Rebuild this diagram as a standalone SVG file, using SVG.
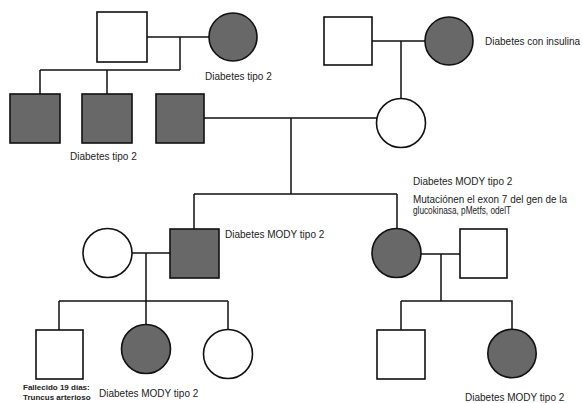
<svg xmlns="http://www.w3.org/2000/svg" width="582" height="403" viewBox="0 0 582 403">
<style>
.sh{stroke:#111;stroke-width:1.6;fill:#fff}
.af{fill:#686868}
.ln{stroke:#111;stroke-width:1.5;fill:none}
.t{font-family:"Liberation Sans",Arial,sans-serif;font-size:10px;fill:#222}
.s{font-family:"Liberation Sans",Arial,sans-serif;font-size:8px;font-weight:bold;fill:#222}
</style>
<rect width="582" height="403" fill="#fff"/>
<g id="connectors">
<path class="ln" d="M147 37H209M180 37V70M40 70H180M40 70V94M107 70V94"/>
<path class="ln" d="M372 41H425M401 41V98"/>
<path class="ln" d="M204 118H377M291 118V194M194 194H397M194 194V229M397 194V228"/>
<path class="ln" d="M132 253H170M146 253V325M59 301H228M59 301V330M228 301V330"/>
<path class="ln" d="M421 254H460M441 254V301M401 301H512V329M401 301V330"/>
</g>
<g id="gf1"><rect class="sh" x="97" y="12" width="50" height="50"/></g>
<g id="gm1"><circle class="sh af" cx="233" cy="37" r="24"/><text class="t" x="205" y="79.5">Diabetes tipo 2</text></g>
<g id="gf2"><rect class="sh" x="324" y="17" width="48" height="48"/></g>
<g id="gm2"><circle class="sh af" cx="449" cy="41" r="24"/><text class="t" x="485" y="45">Diabetes con insulina</text></g>
<g id="u1"><rect class="sh af" x="10" y="94" width="50" height="49"/></g>
<g id="u2"><rect class="sh af" x="82" y="94" width="50" height="49"/><text class="t" x="70" y="160">Diabetes tipo 2</text></g>
<g id="father"><rect class="sh af" x="156" y="94" width="48" height="49"/></g>
<g id="mother"><circle class="sh" cx="401" cy="123" r="24.5"/></g>
<g id="wife"><circle class="sh" cx="107.5" cy="253" r="24.5"/></g>
<g id="son"><rect class="sh af" x="170" y="229" width="49" height="49"/><text class="t" x="225" y="237.5">Diabetes MODY tipo 2</text></g>
<g id="daughter"><circle class="sh af" cx="396.5" cy="253" r="24.5"/><text class="t" x="413" y="185">Diabetes MODY tipo 2</text><text class="t" x="413" y="203" textLength="154" lengthAdjust="spacingAndGlyphs">Mutaciónen el exon 7 del gen de la</text><text class="t" x="413" y="213.5" textLength="98" lengthAdjust="spacingAndGlyphs">glucokinasa, pMetfs, odelT</text></g>
<g id="husband"><rect class="sh" x="460" y="229" width="47" height="49"/></g>
<g id="g3a"><rect class="sh" x="36" y="330" width="47" height="49"/><text class="s" x="23" y="389.5">Fallecido 19 días:</text><text class="s" x="23" y="400">Truncus arterioso</text></g>
<g id="g3b"><circle class="sh af" cx="146" cy="349" r="24.5"/><text class="t" x="99" y="397">Diabetes MODY tipo 2</text></g>
<g id="g3c"><circle class="sh" cx="228" cy="354" r="24.5"/></g>
<g id="g3d"><rect class="sh" x="377" y="330" width="48" height="49"/></g>
<g id="g3e"><circle class="sh af" cx="512" cy="353.5" r="24.2"/><text class="t" x="465" y="401">Diabetes MODY tipo 2</text></g>
</svg>
